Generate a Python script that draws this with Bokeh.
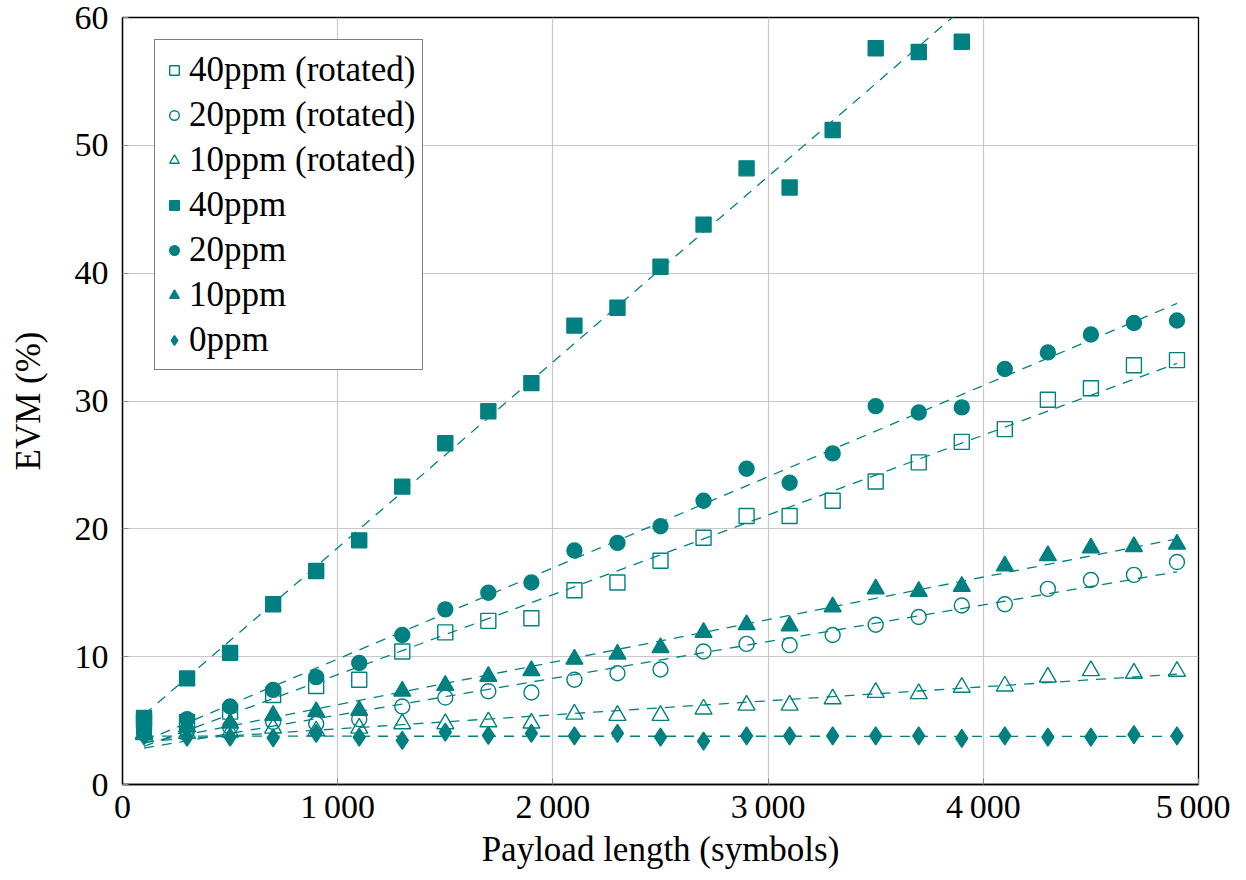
import numpy as np
from bokeh.plotting import figure
from bokeh.models import FixedTicker, Legend, LegendItem, Range1d
from bokeh.embed import file_html
from bokeh.resources import INLINE

# ---------------- data ----------------
payload = [100, 300, 500, 700, 900, 1100, 1300, 1500, 1700, 1900, 2100, 2300, 2500,
           2700, 2900, 3100, 3300, 3500, 3700, 3900, 4100, 4300, 4500, 4700, 4900]

evm_40_rot = [4.9, 4.9, 5.7, 7.0, 7.7, 8.2, 10.4, 11.9, 12.8, 13.0, 15.2, 15.8, 17.5,
              19.3, 21.0, 21.0, 22.2, 23.7, 25.2, 26.8, 27.8, 30.1, 31.0, 32.8, 33.2]
evm_20_rot = [4.0, 4.2, 4.5, 4.9, 4.75, 5.1, 6.1, 6.8, 7.3, 7.2, 8.2, 8.7, 9.0,
              10.4, 11.0, 10.9, 11.7, 12.5, 13.1, 14.0, 14.1, 15.3, 16.0, 16.4, 17.4]
evm_10_rot = [3.9, 4.0, 4.1, 4.4, 4.2, 4.4, 4.75, 4.75, 4.9, 4.8, 5.5, 5.4, 5.4,
              5.9, 6.2, 6.2, 6.7, 7.2, 7.1, 7.6, 7.7, 8.4, 8.9, 8.7, 8.85]
evm_40 = [5.2, 8.3, 10.3, 14.1, 16.7, 19.1, 23.3, 26.7, 29.2, 31.4, 35.9, 37.3, 40.5,
          43.8, 48.2, 46.7, 51.2, 57.6, 57.3, 58.1]
evm_20 = [4.2, 5.1, 6.1, 7.4, 8.4, 9.5, 11.7, 13.7, 15.0, 15.8, 18.3, 18.9, 20.2,
          22.2, 24.7, 23.6, 25.9, 29.6, 29.1, 29.5, 32.5, 33.8, 35.2, 36.1, 36.3]
evm_10 = [4.0, 4.5, 4.8, 5.4, 5.7, 5.8, 7.3, 7.75, 8.46, 8.9, 9.8, 10.2, 10.7,
          11.9, 12.5, 12.4, 13.9, 15.3, 15.1, 15.5, 17.1, 17.9, 18.5, 18.6, 18.8]
evm_0 = [3.8, 3.7, 3.7, 3.65, 4.0, 3.7, 3.45, 4.1, 3.85, 4.0, 3.8, 4.0, 3.7,
         3.4, 3.8, 3.8, 3.8, 3.8, 3.8, 3.6, 3.8, 3.7, 3.7, 3.9, 3.8]

x_ticks = [0, 1000, 2000, 3000, 4000, 5000]
x_tick_labels = ["0", "1\u2009000", "2\u2009000", "3\u2009000", "4\u2009000", "5\u2009000"]
y_ticks = [0, 10, 20, 30, 40, 50, 60]

series = [
    ("40ppm (rotated)", evm_40_rot, "square", False),
    ("20ppm (rotated)", evm_20_rot, "circle", False),
    ("10ppm (rotated)", evm_10_rot, "triangle", False),
    ("40ppm", evm_40, "square", True),
    ("20ppm", evm_20, "circle", True),
    ("10ppm", evm_10, "triangle", True),
    ("0ppm", evm_0, "diamond", True),
]

TEAL = "#008080"
FONT = "Liberation Serif"
FS_TICK = "34px"
FS_LABEL = "35px"

p = figure(width=1230, height=872, output_backend="svg", toolbar_location=None,
           x_range=Range1d(0, 5000), y_range=Range1d(0, 60),
           min_border_left=122, min_border_right=32, min_border_top=17, min_border_bottom=88)

p.outline_line_color = "black"
p.outline_line_width = 1.3
p.outline_line_alpha = 1.0

for ax in (p.xaxis[0], p.yaxis[0]):
    ax.axis_line_color = "black"
    ax.axis_line_width = 1.3
    ax.major_tick_in = 6
    ax.major_tick_out = 0
    ax.major_tick_line_color = "#888888"
    ax.minor_tick_line_color = None
    ax.major_label_text_font = FONT
    ax.major_label_text_font_size = FS_TICK
    ax.major_label_text_color = "black"
    ax.axis_label_text_font = FONT
    ax.axis_label_text_font_size = FS_LABEL
    ax.axis_label_text_font_style = "normal"
    ax.axis_label_text_color = "black"

p.xaxis.ticker = FixedTicker(ticks=x_ticks)
p.xaxis.major_label_overrides = {t: lab for t, lab in zip(x_ticks, x_tick_labels)}
p.yaxis.ticker = FixedTicker(ticks=y_ticks)
p.xaxis.axis_label = "Payload length (symbols)"
p.yaxis.axis_label = "EVM (%)"
p.xaxis.major_label_standoff = 3
p.xaxis.axis_label_standoff = 2
p.yaxis.major_label_standoff = 14
p.yaxis.axis_label_standoff = 24

p.xgrid.grid_line_color = "#c8c8c8"
p.ygrid.grid_line_color = "#c8c8c8"
p.xgrid.grid_line_width = 1.2
p.ygrid.grid_line_width = 1.2

sizes = {"square": 15, "circle": 15, "triangle": 17, "diamond": 18}

items = []
for label, ys, marker, filled in series:
    xs = payload[:len(ys)]
    r = p.scatter(xs, ys, marker=marker, size=sizes[marker],
                  line_color=TEAL, line_width=1.4,
                  fill_color=TEAL if filled else None)
    items.append(LegendItem(label=label, renderers=[r]))

# linear trend lines (least squares fits of each series)
for label, ys, marker, filled in series:
    xs = np.array(payload[:len(ys)], dtype=float)
    k, b = np.polyfit(xs, np.array(ys, dtype=float), 1)
    fx = np.array(payload, dtype=float)
    p.line(fx, k * fx + b, line_color=TEAL, line_width=1.3, line_dash="10 8")

legend = Legend(items=items, location=(32, 414))
legend.label_text_font = FONT
legend.label_text_font_size = FS_LABEL
legend.label_text_color = "black"
legend.label_height = 45
legend.glyph_height = 26
legend.glyph_width = 24
legend.label_standoff = 3
legend.spacing = 0
legend.padding = 7
legend.border_line_color = "black"
legend.border_line_width = 1.2
legend.background_fill_alpha = 1.0
p.add_layout(legend, "center")

open("out.html", "w").write(file_html(p, INLINE))
